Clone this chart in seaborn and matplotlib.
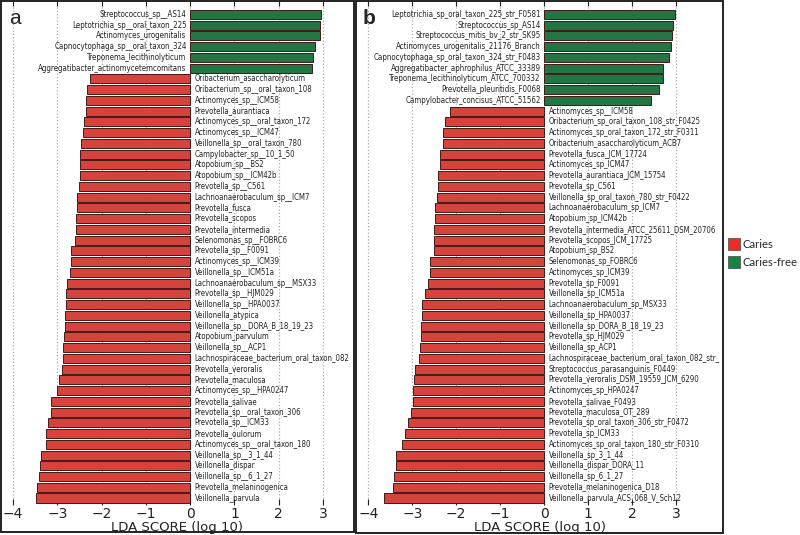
import numpy as np
import pandas as pd
import matplotlib
matplotlib.use("Agg")
import matplotlib.pyplot as plt
from matplotlib.patches import Patch, Rectangle
import seaborn as sns

# ---------------- data ----------------
names_a_free = ["Streptococcus_sp__AS14", "Leptotrichia_sp__oral_taxon_225",
                "Actinomyces_urogenitalis", "Capnocytophaga_sp__oral_taxon_324",
                "Treponema_lecithinolyticum", "Aggregatibacter_actinomycetemcomitans"]
scores_a_free = [2.95, 2.94, 2.94, 2.83, 2.78, 2.75]

names_a_caries = ["Oribacterium_asaccharolyticum", "Oribacterium_sp__oral_taxon_108",
                  "Actinomyces_sp__ICM58", "Prevotella_aurantiaca",
                  "Actinomyces_sp__oral_taxon_172", "Actinomyces_sp__ICM47",
                  "Veillonella_sp__oral_taxon_780", "Campylobacter_sp__10_1_50",
                  "Atopobium_sp__BS2", "Atopobium_sp__ICM42b", "Prevotella_sp__C561",
                  "Lachnoanaerobaculum_sp__ICM7", "Prevotella_fusca", "Prevotella_scopos",
                  "Prevotella_intermedia", "Selenomonas_sp__FOBRC6", "Prevotella_sp__F0091",
                  "Actinomyces_sp__ICM39", "Veillonella_sp__ICM51a",
                  "Lachnoanaerobaculum_sp__MSX33", "Prevotella_sp__HJM029",
                  "Veillonella_sp__HPA0037", "Veillonella_atypica",
                  "Veillonella_sp__DORA_B_18_19_23", "Atopobium_parvulum",
                  "Veillonella_sp__ACP1", "Lachnospiraceae_bacterium_oral_taxon_082",
                  "Prevotella_veroralis", "Prevotella_maculosa", "Actinomyces_sp__HPA0247",
                  "Prevotella_salivae", "Prevotella_sp__oral_taxon_306", "Prevotella_sp__ICM33",
                  "Prevotella_oulorum", "Actinomyces_sp__oral_taxon_180",
                  "Veillonella_sp__3_1_44", "Veillonella_dispar", "Veillonella_sp__6_1_27",
                  "Prevotella_melaninogenica", "Veillonella_parvula"]
scores_a_caries = [-2.27, -2.33, -2.35, -2.36, -2.39, -2.41, -2.46, -2.48, -2.49, -2.49,
                   -2.50, -2.55, -2.55, -2.57, -2.58, -2.59, -2.69, -2.69, -2.72, -2.78,
                   -2.80, -2.81, -2.83, -2.83, -2.84, -2.87, -2.87, -2.89, -2.96, -3.01,
                   -3.14, -3.14, -3.21, -3.26, -3.26, -3.37, -3.39, -3.42, -3.46, -3.48]

names_b_free = ["Leptotrichia_sp_oral_taxon_225_str_F0581", "Streptococcus_sp_AS14",
                "Streptococcus_mitis_bv_2_str_SK95", "Actinomyces_urogenitalis_21176_Branch",
                "Capnocytophaga_sp_oral_taxon_324_str_F0483",
                "Aggregatibacter_aphrophilus_ATCC_33389",
                "Treponema_lecithinolyticum_ATCC_700332", "Prevotella_pleuritidis_F0068",
                "Campylobacter_concisus_ATCC_51562"]
scores_b_free = [2.97, 2.93, 2.92, 2.89, 2.85, 2.71, 2.70, 2.62, 2.43]

names_b_caries = ["Actinomyces_sp__ICM58", "Oribacterium_sp_oral_taxon_108_str_F0425",
                  "Actinomyces_sp_oral_taxon_172_str_F0311", "Oribacterium_asaccharolyticum_ACB7",
                  "Prevotella_fusca_JCM_17724", "Actinomyces_sp_ICM47",
                  "Prevotella_aurantiaca_JCM_15754", "Prevotella_sp_C561",
                  "Veillonella_sp_oral_taxon_780_str_F0422", "Lachnoanaerobaculum_sp_ICM7",
                  "Atopobium_sp_ICM42b", "Prevotella_intermedia_ATCC_25611_DSM_20706",
                  "Prevotella_scopos_JCM_17725", "Atopobium_sp_BS2", "Selenomonas_sp_FOBRC6",
                  "Actinomyces_sp_ICM39", "Prevotella_sp_F0091", "Veillonella_sp_ICM51a",
                  "Lachnoanaerobaculum_sp_MSX33", "Veillonella_sp_HPA0037",
                  "Veillonella_sp_DORA_B_18_19_23", "Prevotella_sp_HJM029", "Veillonella_sp_ACP1",
                  "Lachnospiraceae_bacterium_oral_taxon_082_str_",
                  "Streptococcus_parasanguinis_F0449", "Prevotella_veroralis_DSM_19559_JCM_6290",
                  "Actinomyces_sp_HPA0247", "Prevotella_salivae_F0493",
                  "Prevotella_maculosa_OT_289", "Prevotella_sp_oral_taxon_306_str_F0472",
                  "Prevotella_sp_ICM33", "Actinomyces_sp_oral_taxon_180_str_F0310",
                  "Veillonella_sp_3_1_44", "Veillonella_dispar_DORA_11", "Veillonella_sp_6_1_27",
                  "Prevotella_melaninogenica_D18", "Veillonella_parvula_ACS_068_V_Sch12"]
scores_b_caries = [-2.15, -2.25, -2.31, -2.31, -2.37, -2.38, -2.41, -2.42, -2.43, -2.48,
                   -2.49, -2.50, -2.51, -2.51, -2.59, -2.59, -2.64, -2.71, -2.77, -2.78,
                   -2.79, -2.80, -2.83, -2.84, -2.93, -2.96, -2.98, -2.99, -3.03, -3.09,
                   -3.17, -3.23, -3.36, -3.38, -3.41, -3.44, -3.65]

groups = ["Caries", "Caries-free"]
panel_letters = ["a", "b"]
tick_values = [-4, -3, -2, -1, 0, 1, 2, 3]

RED = "#EE2B24"
GREEN = "#168340"
palette = {"Caries": RED, "Caries-free": GREEN}

W, H = 800, 535
fig = plt.figure(figsize=(W / 100, H / 100), dpi=100)
sns.set_style("white")
plt.rcParams["font.family"] = ["DejaVu Sans"]


def px_axes(x0, x1, y0, y1):
    return [x0 / W, 1 - y1 / H, (x1 - x0) / W, (y1 - y0) / H]


def draw_panel(ax, free_names, free_scores, car_names, car_scores, xlim):
    df = pd.DataFrame({
        "name": free_names + car_names,
        "score": free_scores + car_scores,
        "group": ["Caries-free"] * len(free_names) + ["Caries"] * len(car_names),
    })
    sns.barplot(data=df, x="score", y="name", hue="group", palette=palette,
                dodge=False, width=0.84, edgecolor="#3a1010", linewidth=0.65,
                legend=False, ax=ax, zorder=3)
    for i, (n, s) in enumerate(zip(df["name"], df["score"])):
        if s > 0:
            ax.text(-0.08, i, n, ha="right", va="center", fontsize=5.7,
                    fontstretch="condensed", color="#222222")
        else:
            ax.text(0.1, i, n, ha="left", va="center", fontsize=5.6,
                    fontstretch="condensed", color="#222222")
    ax.set_xlim(*xlim)
    ax.set_ylim(45.65, -1.33)
    ax.set_yticks([])
    ax.set_ylabel("")
    ax.set_xticks(tick_values)
    ax.set_xticklabels([("\u2212%d" % -t) if t < 0 else str(t) for t in tick_values],
                       fontsize=10)
    ax.tick_params(axis="x", direction="in", length=4, width=0.8, top=True, bottom=True,
                   pad=1.5, colors="#222222")
    ax.xaxis.grid(True, linestyle=":", color="#aaaaaa", linewidth=0.9, zorder=0)
    ax.set_axisbelow(True)
    ax.set_xlabel("LDA SCORE (log 10)", fontsize=9.5, labelpad=0, color="#222222")
    for sp in ax.spines.values():
        sp.set_visible(False)


axA = fig.add_axes(px_axes(1, 354, 0, 505))
draw_panel(axA, names_a_free, scores_a_free, names_a_caries, scores_a_caries,
           (-4.27, 3.70))
axB = fig.add_axes(px_axes(356, 723, 0, 505))
draw_panel(axB, names_b_free, scores_b_free, names_b_caries, scores_b_caries,
           (-4.28, 4.07))

# panel frames
for (x0, x1, y0, y1) in [(1, 354, 0.5, 532), (356, 723, 0.5, 533)]:
    fig.add_artist(Rectangle((x0 / W, 1 - y1 / H), (x1 - x0) / W, (y1 - y0) / H,
                             transform=fig.transFigure, fill=False,
                             edgecolor="#222222", linewidth=1.4))

# panel letters
fig.text(9 / W, 1 - 19 / H, panel_letters[0], fontsize=15, ha="left", va="center",
         family=["Liberation Sans"])
fig.text(363 / W, 1 - 19 / H, panel_letters[1], fontsize=15, ha="left", va="center",
         family=["Liberation Sans"], fontweight="bold")

# legend
handles = [Patch(facecolor=palette[g], edgecolor="#555555", linewidth=0.6, label=g)
           for g in groups]
fig.legend(handles=handles, loc="upper left", bbox_to_anchor=(728 / W, 1 - 238 / H),
           frameon=False, handlelength=1.05, handleheight=1.2,
           handletextpad=0.2, labelspacing=0.6, borderaxespad=0, borderpad=0,
           prop={"family": ["Lato"], "size": 8.1})

fig.savefig("out.png", dpi=100)
